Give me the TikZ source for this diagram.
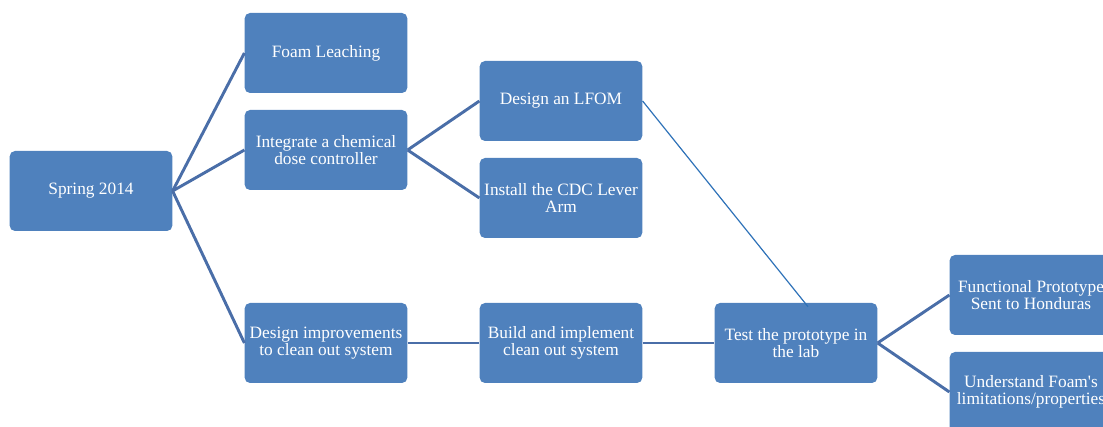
\documentclass[tikz,border=0pt]{standalone}
\usepackage{fontspec}
\setmainfont{Liberation Serif}
\definecolor{boxblue}{HTML}{4F81BD}
\definecolor{lineblue}{HTML}{4A6EA8}
\definecolor{thinblue}{HTML}{2E72B8}
\begin{document}
\begin{tikzpicture}[x=0.75pt,y=-0.75pt]
	\tikzstyle{box}=[rectangle,rounded corners=4pt,fill=boxblue,text=white,minimum width=122pt,minimum height=60pt,inner sep=0pt,align=center,font=\fontsize{13}{12.6}\selectfont]
	\tikzstyle{link}=[draw=lineblue,line width=2.2pt]
	\useasboundingbox (0,0) rectangle (1103,427);
	\begin{scope}
	\node[box] (spring)  at (91,191)   {Spring 2014};
	\node[box] (foam)    at (326,53)   {Foam Leaching};
	\node[box] (cdc)     at (326,150)  {Integrate a chemical\\dose controller};
	\node[box] (clean)   at (326,343)  {Design improvements\\to clean out system};
	\node[box] (lfom)    at (561,101)  {Design an LFOM};
	\node[box] (lever)   at (561,198)  {Install the CDC Lever\\Arm};
	\node[box] (build)   at (561,343)  {Build and implement\\clean out system};
	\node[box] (test)    at (796,343)  {Test the prototype in\\the lab};
	\node[box] (sent)    at (1031,295) {Functional Prototype\\Sent to Honduras};
	\node[box] (foamlim) at (1031,392) {Understand Foam\textquotesingle s\\limitations/properties};
	\end{scope}

	\path[link]
	(spring.east) edge (foam.west)
	(spring.east) edge (cdc.west)
	(spring.east) edge (clean.west)
	(cdc.east) edge (lfom.west)
	(cdc.east) edge (lever.west)
	(clean) edge (build)
	(build) edge (test)
	(test.east) edge (sent.west)
	(test.east) edge (foamlim.west)
	;
	\draw[thinblue,line width=0.9pt] (lfom.east) -- ([xshift=9pt,yshift=-3pt]test.north);
\end{tikzpicture}
\end{document}
